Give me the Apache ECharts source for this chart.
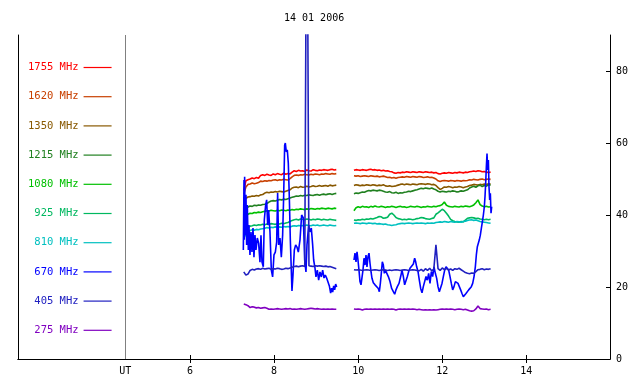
<!DOCTYPE html>
<html>
<head>
<meta charset="utf-8">
<script src="https://cdn.jsdelivr.net/npm/echarts@6/dist/echarts.min.js"></script>
<style>html,body{margin:0;padding:0;background:#fff}#c{width:640px;height:384px}</style>
</head>
<body>
<div id="c"></div>
<script>
// ---------- data ----------
const TITLE = '14 01 2006';
const names = ['1755 MHz','1620 MHz','1350 MHz','1215 MHz','1080 MHz','925 MHz','810 MHz','670 MHz','405 MHz','275 MHz'];
const colors = ['#ff0000','#c84000','#885800','#208020','#00c000','#00b860','#00c0c0','#0000ff','#2020c0','#8000c0'];
const xTicks = [6, 8, 10, 12, 14];
const yTicks = [0, 20, 40, 60, 80];
const UT_POS = 4.461;
const X_MIN = 1.91, X_MAX = 15.99, Y_MIN = 0, Y_MAX = 90;
// sampling of the regular channels: segment A starts 7.28 h, segment B 9.90 h, 0.05 h step
const STEP = 0.05, TA0 = 7.28, TB0 = 9.90, GAP_T = 9.70;

const f1755A = [46.8,49.5,49.8,50.0,50.3,50.1,50.4,50.2,51.0,51.2, 51.0,51.3,51.1,51.0,51.4,51.2,51.5,51.3,51.2,51.6, 51.3,51.5,51.4,51.9,52.3,52.1,52.4,52.2,52.3,52.1, 52.5,52.3,52.2,52.6,52.4,52.3,52.5,52.4,52.6,52.5, 52.4,52.6,52.7,52.5,52.6];
const f1755B = [52.4,52.6,52.5,52.4,52.6,52.5,52.4,52.6,52.7,52.5, 52.6,52.4,52.5,52.3,52.4,52.2,52.3,52.1,52.0,51.7, 51.6,51.8,51.7,51.9,51.8,52.0,51.9,51.8,52.0,51.9, 51.8,52.0,51.9,51.8,52.0,51.9,51.8,51.9,51.7,51.8, 51.5,51.4,51.6,51.7,51.6,51.8,51.7,51.6,51.8,51.7, 51.9,51.8,51.7,51.9,51.8,52.0,52.1,52.2,52.1,52.3, 52.2,52.0,52.1,51.9,51.8,51.9];
const f1620A = [45.8,47.8,48.5,48.6,48.9,48.7,48.8,49.0,49.4,49.3, 49.5,49.4,49.6,49.5,49.7,49.8,49.6,49.8,49.7,49.9, 49.8,49.7,50.1,50.6,51.0,51.1,51.0,51.2,51.1,51.3, 51.2,51.1,51.3,51.2,51.4,51.3,51.2,51.4,51.3,51.5, 51.4,51.3,51.5,51.4,51.5];
const f1620B = [50.9,50.8,50.9,50.7,50.8,50.9,50.8,50.7,50.9,50.8, 50.7,50.8,50.6,50.7,50.8,50.6,50.4,50.5,50.3,50.4, 50.2,50.4,50.5,50.6,50.5,50.7,50.6,50.5,50.7,50.6, 50.5,50.7,50.6,50.4,50.5,50.6,50.4,50.5,50.3,50.0, 49.5,49.3,49.5,49.6,49.5,49.4,49.6,49.5,49.4,49.6, 49.5,49.4,49.6,49.5,49.6,49.8,49.7,49.9,49.8,49.7, 49.9,50.0,49.8,49.9,50.0,49.9];
const f1350A = [43.8,44.6,45.0,45.1,45.3,45.2,45.4,45.3,45.6,45.7, 46.1,46.3,46.2,46.4,46.3,46.5,46.4,46.6,46.5,46.4, 46.6,46.8,47.0,47.5,47.7,47.8,47.6,47.9,47.7,47.8, 48.0,47.8,47.9,48.1,47.9,48.0,48.2,48.0,48.1,48.2, 48.0,48.3,48.1,48.2,48.3];
const f1350B = [48.2,48.4,48.3,48.1,48.3,48.2,48.4,48.3,48.2,48.4, 48.3,48.1,48.3,48.2,48.4,48.1,48.0,48.1,47.9,48.0, 48.1,48.3,48.5,48.6,48.4,48.6,48.5,48.4,48.6,48.5, 48.4,48.6,48.7,48.6,48.5,48.7,48.6,48.4,48.5,48.2, 47.6,47.1,47.4,47.8,47.7,47.9,47.8,47.6,47.8,47.7, 47.9,47.8,47.6,47.8,47.9,48.2,48.3,48.5,48.4,48.3, 48.5,48.4,48.6,48.5,48.7,48.6];
const f1215A = [41.2,41.8,42.2,42.5,42.4,42.7,42.6,42.8,42.7,42.9, 43.0,43.2,43.6,43.9,44.0,43.9,44.1,44.3,44.2,44.4, 44.3,44.5,44.7,44.9,45.1,45.3,45.2,45.4,45.3,45.5, 45.4,45.6,45.5,45.4,45.6,45.7,45.5,45.7,45.8,45.6, 45.8,45.9,45.7,45.9,46.0];
const f1215B = [45.9,46.1,46.0,46.2,46.4,46.3,46.6,46.8,46.7,46.9, 46.8,46.7,46.9,46.8,46.6,46.4,46.3,46.5,46.2,46.1, 46.3,46.0,46.2,46.1,46.3,46.4,46.6,46.5,46.7,46.9, 47.0,47.2,47.4,47.3,47.5,47.4,47.3,47.5,47.2,47.0, 46.6,46.4,46.6,46.5,46.4,46.6,46.5,46.7,46.6,46.4, 46.5,46.7,46.6,46.8,47.0,47.5,47.8,48.0,47.7,48.1, 48.3,47.9,48.2,48.0,48.4,48.3];
const f1080A = [38.4,39.6,40.2,40.5,40.4,40.7,40.6,40.8,40.7,40.9, 41.0,41.2,41.1,41.3,41.2,41.1,41.3,41.2,41.4,41.3, 41.2,41.4,41.3,41.5,41.4,41.6,41.5,41.7,41.6,41.5, 41.7,41.6,41.8,41.7,41.6,41.8,41.7,41.9,41.8,41.7, 41.9,41.8,41.7,41.9,41.8];
const f1080B = [41.2,42.0,42.3,42.1,42.4,42.2,42.3,42.1,42.4,42.2, 42.5,42.3,42.2,42.4,42.3,42.1,42.3,42.2,42.4,42.3, 42.1,42.3,42.4,42.2,42.3,42.1,42.2,42.4,42.3,42.2, 42.4,42.3,42.1,42.3,42.2,42.4,42.3,42.2,42.4,42.3, 42.5,42.6,42.9,43.6,42.7,42.4,42.3,42.2,42.4,42.3, 42.2,42.4,42.3,42.5,42.4,42.3,42.5,42.8,43.4,44.2, 42.9,42.5,42.3,42.4,42.2,42.3];
const f925A = [33.8,35.6,36.4,36.9,37.0,37.2,37.1,37.3,37.2,37.4, 37.3,37.5,37.4,37.6,37.5,37.4,37.6,37.5,37.7,37.6, 37.8,37.9,38.2,38.5,38.7,38.8,38.6,38.9,38.8,38.7, 38.9,38.8,38.6,38.8,38.7,38.9,38.8,38.6,38.8,38.7, 38.6,38.8,38.7,38.6,38.5];
const f925B = [38.6,38.5,38.7,38.6,38.8,38.7,38.9,38.8,39.0,38.9, 39.1,39.3,39.6,39.5,39.1,39.2,39.4,40.2,40.5,40.0, 39.3,39.0,38.9,38.7,38.8,38.7,38.9,38.8,38.7,38.8, 39.0,39.1,39.3,39.2,39.0,38.9,38.8,39.0,39.2,40.2, 40.6,41.1,41.6,41.2,40.5,39.7,38.8,38.4,38.2,38.1, 38.0,38.2,38.1,38.6,39.1,39.2,39.3,39.2,39.0,39.1, 38.9,38.8,38.7,38.8,38.7,38.8];
const f810A = [33.5,34.6,35.3,35.7,35.9,35.8,36.0,35.9,36.1,36.2, 36.3,36.5,36.4,36.6,36.5,36.7,36.6,36.7,36.6,36.8, 36.7,36.8,36.7,36.9,37.0,36.9,37.1,37.0,37.1,37.0, 37.2,37.1,37.0,37.2,37.1,37.2,37.0,37.1,37.2,37.1, 37.0,37.2,37.1,37.0,37.1];
const f810B = [37.7,37.8,37.7,37.6,37.8,37.7,37.6,37.8,37.7,37.6, 37.7,37.5,37.6,37.5,37.4,37.5,37.3,37.2,37.1,37.2, 37.3,37.5,37.6,37.7,37.6,37.7,37.8,37.7,37.6,37.7, 37.8,37.7,37.8,37.7,37.6,37.8,37.7,37.8,37.7,37.9, 38.0,38.1,38.0,38.2,38.1,38.0,38.2,38.1,38.0,38.2, 38.1,38.0,38.2,38.3,38.5,38.6,38.7,38.5,38.6,38.4, 38.2,38.1,38.0,37.9,37.8,37.7];
const f405A = [24.2,23.3,23.6,24.6,24.9,24.7,25.0,25.1,24.9,25.2, 25.0,25.1,25.2,24.9,25.1,25.0,25.2,25.1,24.9,25.0, 25.2,25.1,25.3,25.5,25.7,25.8,25.6,25.8,25.9,25.7, 150,25.9,25.8,25.7,25.9,25.8,25.9,25.8,25.7,25.8, 25.6,25.7,25.5,25.3,25.1];
const f405B = [24.8,24.7,24.8,24.7,24.6,24.7,24.8,24.7,24.6,24.7, 24.8,24.7,24.6,24.7,24.8,24.7,24.6,24.7,24.6,24.7, 24.8,24.7,24.6,24.7,24.8,24.7,24.6,24.7,24.8,24.7, 24.6,24.5,24.9,24.4,25.1,24.6,25.2,24.5,25.0,31.7, 25.1,24.6,25.3,24.8,25.2,24.7,25.0,24.6,25.1,24.9, 25.2,24.8,24.4,24.0,23.8,23.7,23.9,23.8,24.3,24.8, 24.9,25.1,24.8,25.0,24.9,25.1];
const f275A = [15.3,15.1,14.8,14.3,14.5,14.4,14.2,14.3,14.1,14.2, 14.3,14.1,13.8,13.9,13.8,13.9,14.0,13.9,13.8,13.9, 14.0,13.9,14.0,13.8,13.9,13.8,13.9,14.0,13.9,13.8, 13.9,14.0,14.1,14.0,13.9,14.0,13.9,13.8,13.9,13.8, 13.9,13.8,13.9,13.8,13.8];
const f275B = [13.9,13.8,13.9,13.8,13.6,13.8,13.9,13.8,13.9,13.8, 13.9,13.8,13.9,13.8,13.9,13.8,13.9,13.8,13.9,13.8, 13.6,13.8,13.9,13.8,13.9,13.8,13.9,13.8,13.9,13.8, 13.7,13.8,13.7,13.6,13.7,13.6,13.7,13.6,13.7,13.6, 13.7,13.8,13.9,13.8,13.9,13.8,13.9,13.8,13.7,13.8, 13.9,13.8,13.7,13.8,13.6,13.4,13.3,13.4,13.9,14.7, 14.0,13.9,13.8,13.9,13.7,13.8];

// 670 MHz: irregular samples (hours, value)
const t670A = [7.269,7.285,7.292,7.300,7.316,7.332,7.348,7.364,7.388,7.403,7.427,7.451,7.475,7.499,7.522,7.546,7.570,7.602,7.633,7.665,7.689,7.713,7.744,7.768,7.800,7.824,7.848,7.871,7.903,7.935,7.966,7.998,8.030,8.062,8.085,8.109,8.141,8.173,8.204,8.228,8.252,8.268,8.292,8.315,8.339,8.363,8.387,8.410,8.426,8.450,8.482,8.514,8.545,8.577,8.617,8.656,8.696,8.728,8.759,8.783,8.823,8.854,8.886,8.918,8.942,8.973,8.997,9.029,9.061,9.092,9.124,9.156,9.188,9.219,9.251,9.283,9.315,9.346,9.370,9.394,9.418,9.441,9.465,9.489];
const v670A = [30.3,49.7,33.1,50.6,34.4,45.6,31.7,42.8,30.3,37.2,28.9,35.3,29.7,36.4,28.3,34.4,30.3,33.6,32.2,26.9,34.4,26.9,25.6,38.6,42.8,44.2,37.2,41.4,35.3,24.7,22.8,28.9,29.7,32.5,46.1,31.7,33.6,28.3,34.4,45.0,59.4,60.0,57.5,58.1,54.4,45.0,33.1,24.7,18.9,23.3,30.3,31.7,31.1,29.7,33.1,40.0,39.2,27.5,24.2,31.7,37.2,35.3,36.4,31.7,27.5,25.3,22.8,24.7,21.9,24.2,22.8,24.7,22.5,23.3,22.5,21.4,20.3,18.3,19.7,18.6,20.3,19.2,20.8,20.0];
const t670B = [9.901,9.925,9.949,9.973,9.996,10.020,10.044,10.068,10.091,10.115,10.139,10.163,10.187,10.210,10.234,10.258,10.282,10.306,10.329,10.361,10.401,10.440,10.480,10.504,10.528,10.551,10.575,10.599,10.623,10.647,10.678,10.718,10.758,10.797,10.837,10.869,10.900,10.932,10.972,11.011,11.043,11.075,11.106,11.138,11.170,11.202,11.233,11.273,11.313,11.344,11.368,11.392,11.424,11.455,11.487,11.519,11.550,11.582,11.614,11.646,11.677,11.709,11.741,11.772,11.804,11.836,11.868,11.899,11.931,11.963,11.994,12.026,12.058,12.090,12.121,12.153,12.185,12.216,12.248,12.280,12.312,12.343,12.375,12.407,12.438,12.470,12.502,12.534,12.565,12.597,12.629,12.660,12.692,12.724,12.756,12.787,12.811,12.835,12.882,12.906,12.930,12.954,12.978,13.001,13.017,13.033,13.049,13.065,13.081,13.097,13.112,13.128,13.144,13.160,13.176];
const v670B = [27.5,29.4,27.0,29.8,27.5,24.7,21.5,20.6,21.0,24.7,28.0,26.1,28.9,25.6,28.4,29.4,26.6,24.3,22.4,21.2,20.6,20.1,19.6,18.7,21.0,23.8,27.0,26.1,23.8,24.7,24.3,22.9,21.5,19.6,18.7,18.0,19.2,20.1,21.0,22.9,24.7,22.9,20.6,21.0,22.9,24.3,25.2,25.6,26.4,28.0,27.0,25.6,24.3,21.9,19.6,18.4,20.1,20.6,22.9,21.9,23.8,21.0,24.3,22.9,25.6,23.8,22.4,20.1,18.7,19.2,21.0,22.9,24.7,25.6,25.2,24.7,22.9,21.0,19.2,20.1,21.5,21.5,21.0,20.6,19.2,18.2,17.3,17.8,18.2,18.7,19.2,19.6,20.1,21.0,22.9,25.6,28.9,31.2,33.1,34.4,36.3,38.1,40.0,42.3,45.1,48.8,53.4,57.1,52.5,55.3,47.9,44.2,46.0,40.5,42.3];

// ---------- build ----------
function seq(start, n) { const a = []; for (let i = 0; i < n; i++) a.push(+(start + i * STEP).toFixed(3)); return a; }
const tA = seq(TA0, f1755A.length), tB = seq(TB0, f1755B.length);
function zip(t, v) { return t.map((x, i) => [x, v[i]]); }
function build(a, b) { return zip(tA, a).concat([[GAP_T, null]], zip(tB, b)); }

const seriesData = [
  build(f1755A, f1755B), build(f1620A, f1620B), build(f1350A, f1350B), build(f1215A, f1215B),
  build(f1080A, f1080B), build(f925A, f925B), build(f810A, f810B),
  zip(t670A, v670A).concat([[GAP_T, null]], zip(t670B, v670B)),
  build(f405A, f405B), build(f275A, f275B)
];

const MONO = '"DejaVu Sans Mono", monospace';
const series = names.map((n, i) => ({
  name: n, type: 'line', data: seriesData[i], showSymbol: false, symbol: 'none',
  connectNulls: false, clip: true, silent: true,
  lineStyle: { color: colors[i], width: 1.6 }, itemStyle: { color: colors[i] },
  markLine: i === 0 ? {
    silent: true, symbol: ['none', 'none'], label: { show: false },
    lineStyle: { color: '#808080', width: 1, type: 'solid' },
    data: [{ xAxis: UT_POS }]
  } : undefined
}));

const chart = echarts.init(document.getElementById('c'), null, { renderer: 'canvas' });
chart.setOption({
  animation: false,
  backgroundColor: '#fff',
  title: { text: TITLE, left: 284, top: 13, padding: 0,
    textStyle: { fontFamily: MONO, fontSize: 10, fontWeight: 'normal', color: '#000' } },
  legend: {
    orient: 'vertical', left: 28, top: 61, padding: 0, align: 'right',
    icon: 'rect', itemWidth: 28, itemHeight: 1.2, itemGap: 16.2, selectedMode: false,
    data: names.map((n, i) => ({ name: n, textStyle: { color: colors[i] } })),
    textStyle: { fontFamily: MONO, fontSize: 10.5, lineHeight: 13 }
  },
  grid: { left: 18, right: 30, top: 35, bottom: 25, containLabel: false },
  xAxis: [
    { type: 'value', position: 'bottom', min: X_MIN, max: X_MAX,
      axisLine: { lineStyle: { color: '#000', width: 1 } },
      axisTick: { inside: true, length: 4, lineStyle: { color: '#000' }, customValues: xTicks },
      axisLabel: { customValues: [UT_POS].concat(xTicks), margin: 7, color: '#000',
        fontFamily: MONO, fontSize: 10,
        formatter: v => (Math.abs(v - UT_POS) < 0.01 ? 'UT' : String(v)) },
      splitLine: { show: false } },
    { type: 'value', position: 'top', min: X_MIN, max: X_MAX,
      axisLine: { lineStyle: { color: '#000', width: 1 } },
      axisTick: { inside: true, length: 4, lineStyle: { color: '#000' }, customValues: xTicks },
      axisLabel: { show: false }, splitLine: { show: false } }
  ],
  yAxis: [
    { type: 'value', position: 'right', min: Y_MIN, max: Y_MAX,
      axisLine: { show: true, lineStyle: { color: '#000', width: 1 } },
      axisTick: { show: true, inside: true, length: 4, lineStyle: { color: '#000' }, customValues: yTicks },
      axisLabel: { customValues: yTicks, margin: 6, color: '#000', fontFamily: MONO, fontSize: 10 },
      splitLine: { show: false } },
    { type: 'value', position: 'left', min: Y_MIN, max: Y_MAX,
      axisLine: { show: true, lineStyle: { color: '#000', width: 1 } },
      axisTick: { show: false }, axisLabel: { show: false }, splitLine: { show: false } }
  ],
  series: series
});
</script>
</body>
</html>
